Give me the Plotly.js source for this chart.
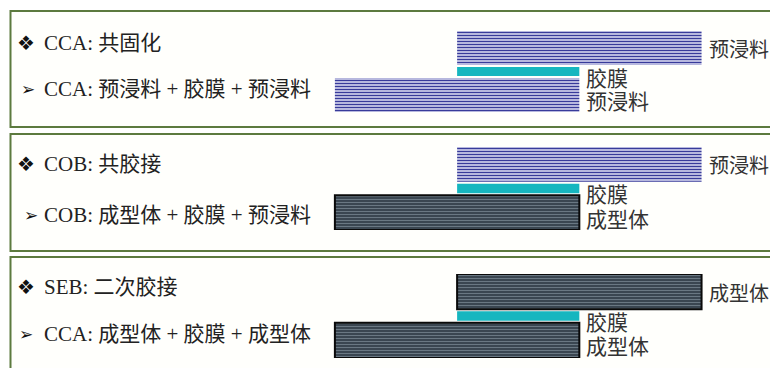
<!DOCTYPE html>
<html>
<head>
<meta charset="utf-8">
<script src="https://cdn.plot.ly/plotly-3.0.1.min.js"></script>
<style>html,body{margin:0;padding:0;background:#fff;}#chart{width:770px;height:368px;}</style>
</head>
<body>
<div id="chart"></div>
<script>
// ---- data ----
const headings = ['CCA: 共固化', 'COB: 共胶接', 'SEB: 二次胶接'];
const subheads = ['CCA: 预浸料 + 胶膜 + 预浸料', 'COB: 成型体 + 胶膜 + 预浸料', 'CCA: 成型体 + 胶膜 + 成型体'];
const topLayer = ['预浸料', '预浸料', '成型体'];
const adhesiveLayer = ['胶膜', '胶膜', '胶膜'];
const bottomLayer = ['预浸料', '成型体', '成型体'];
const topStart = [1, 1, 1];
const topEnd = [3, 3, 3];
const adhesiveStart = [1, 1, 1];
const adhesiveEnd = [2, 2, 2];
const bottomStart = [0, 0, 0];
const bottomEnd = [2, 2, 2];
const materialNames = ['预浸料', '成型体', '胶膜'];
const materialThickness = [1.0, 1.0, 0.27];
const layerGap = 0.06;

// ---- styles ----
const font = "'Liberation Serif', 'Times New Roman', 'Noto Sans CJK SC', serif";
const styles = {
  '预浸料': {color: '#ffffff', pattern: {shape: '-', fgcolor: '#383b9a', bgcolor: '#f4f4ff', size: 3, solidity: 0.55}, line: {width: 0}},
  '成型体': {color: '#3a4651', pattern: {shape: '-', fgcolor: '#74828d', bgcolor: '#3a4651', size: 3, solidity: 0.28}, line: {width: 2, color: '#0a0a0a'}},
  '胶膜': {color: '#16b6bf', line: {width: 0}}
};
const thick = m => materialThickness[materialNames.indexOf(m)];

// panel placement (paper fractions)
const H = 368, W = 770;
const stackPx = [[112, 31], [230, 147], [358, 274]];
const framePx = [[11, 127], [134, 251], [257, 375]];
const headY = [43, 164, 287];
const subY = [89, 215, 334];
const bulletX = [15, 15, 15];
const arrowX = [19, 22, 17];

const traces = [];
const annotations = [];
const shapes = [];
const layout = {
  width: W, height: H,
  margin: {l: 0, r: 0, t: 0, b: 0},
  paper_bgcolor: '#ffffff', plot_bgcolor: 'rgba(0,0,0,0)',
  showlegend: false, barmode: 'overlay', hovermode: false,
  xaxis: {range: [-2.74, 3.56], visible: false, fixedrange: true},
  font: {family: font, size: 21, color: '#222'}
};

for (let p = 0; p < 3; p++) {
  const ax = p === 0 ? '' : String(p + 1);
  const yref = 'y' + ax;
  const tb = thick(bottomLayer[p]), ta = thick(adhesiveLayer[p]), tt = thick(topLayer[p]);
  const yb = tb / 2;
  const ya = tb + layerGap + ta / 2;
  const yt = tb + layerGap + ta + layerGap + tt / 2;
  const total = tb + ta + tt + 2 * layerGap;
  layout['yaxis' + ax] = {
    domain: [1 - stackPx[p][0] / H, 1 - stackPx[p][1] / H],
    range: [0, total], visible: false, fixedrange: true
  };
  const layers = [
    [bottomLayer[p], bottomStart[p], bottomEnd[p], yb, tb, -7, 21],
    [adhesiveLayer[p], adhesiveStart[p], adhesiveEnd[p], ya, ta, -7, 21],
    [topLayer[p], topStart[p], topEnd[p], yt, tt, -2, 20]
  ];
  layers.forEach(([name, s, e, yc, t, ys, fs]) => {
    const st = styles[name];
    const marker = {color: st.color, line: st.line};
    if (st.pattern) marker.pattern = st.pattern;
    traces.push({
      type: 'bar', orientation: 'h', xaxis: 'x', yaxis: yref,
      y: [yc], x: [e - s], base: [s], width: [t], marker: marker
    });
    annotations.push({
      xref: 'x', yref: yref, x: e, y: yc, xanchor: 'left', yanchor: 'middle',
      xshift: 5, yshift: ys, text: name, showarrow: false,
      font: {family: font, size: fs, color: '#333'}
    });
  });
  // frame
  shapes.push({
    type: 'rect', xref: 'paper', yref: 'paper',
    x0: 10.5 / W, x1: 1.02, y0: 1 - framePx[p][1] / H, y1: 1 - framePx[p][0] / H,
    line: {color: '#5c7a3e', width: 2}, fillcolor: 'rgba(255,255,250,0.6)', layer: 'below'
  });
  // text
  annotations.push({xref: 'paper', yref: 'paper', x: bulletX[p] / W, y: 1 - headY[p] / H,
    xanchor: 'left', yanchor: 'middle', text: '❖', showarrow: false,
    font: {family: "'DejaVu Sans', sans-serif", size: 20, color: '#111'}});
  annotations.push({xref: 'paper', yref: 'paper', x: 42 / W, y: 1 - headY[p] / H,
    xanchor: 'left', yanchor: 'middle', text: headings[p], showarrow: false,
    font: {family: font, size: 21, color: '#222'}});
  annotations.push({xref: 'paper', yref: 'paper', x: arrowX[p] / W, y: 1 - subY[p] / H,
    xanchor: 'left', yanchor: 'middle', text: '➢', showarrow: false,
    font: {family: "'DejaVu Sans', sans-serif", size: 17, color: '#111'}});
  annotations.push({xref: 'paper', yref: 'paper', x: 42 / W, y: 1 - subY[p] / H,
    xanchor: 'left', yanchor: 'middle', text: subheads[p], showarrow: false,
    font: {family: font, size: 21, color: '#222'}});
}
layout.annotations = annotations;
layout.shapes = shapes;

Plotly.newPlot('chart', traces, layout, {displayModeBar: false, staticPlot: true});
</script>
</body>
</html>
